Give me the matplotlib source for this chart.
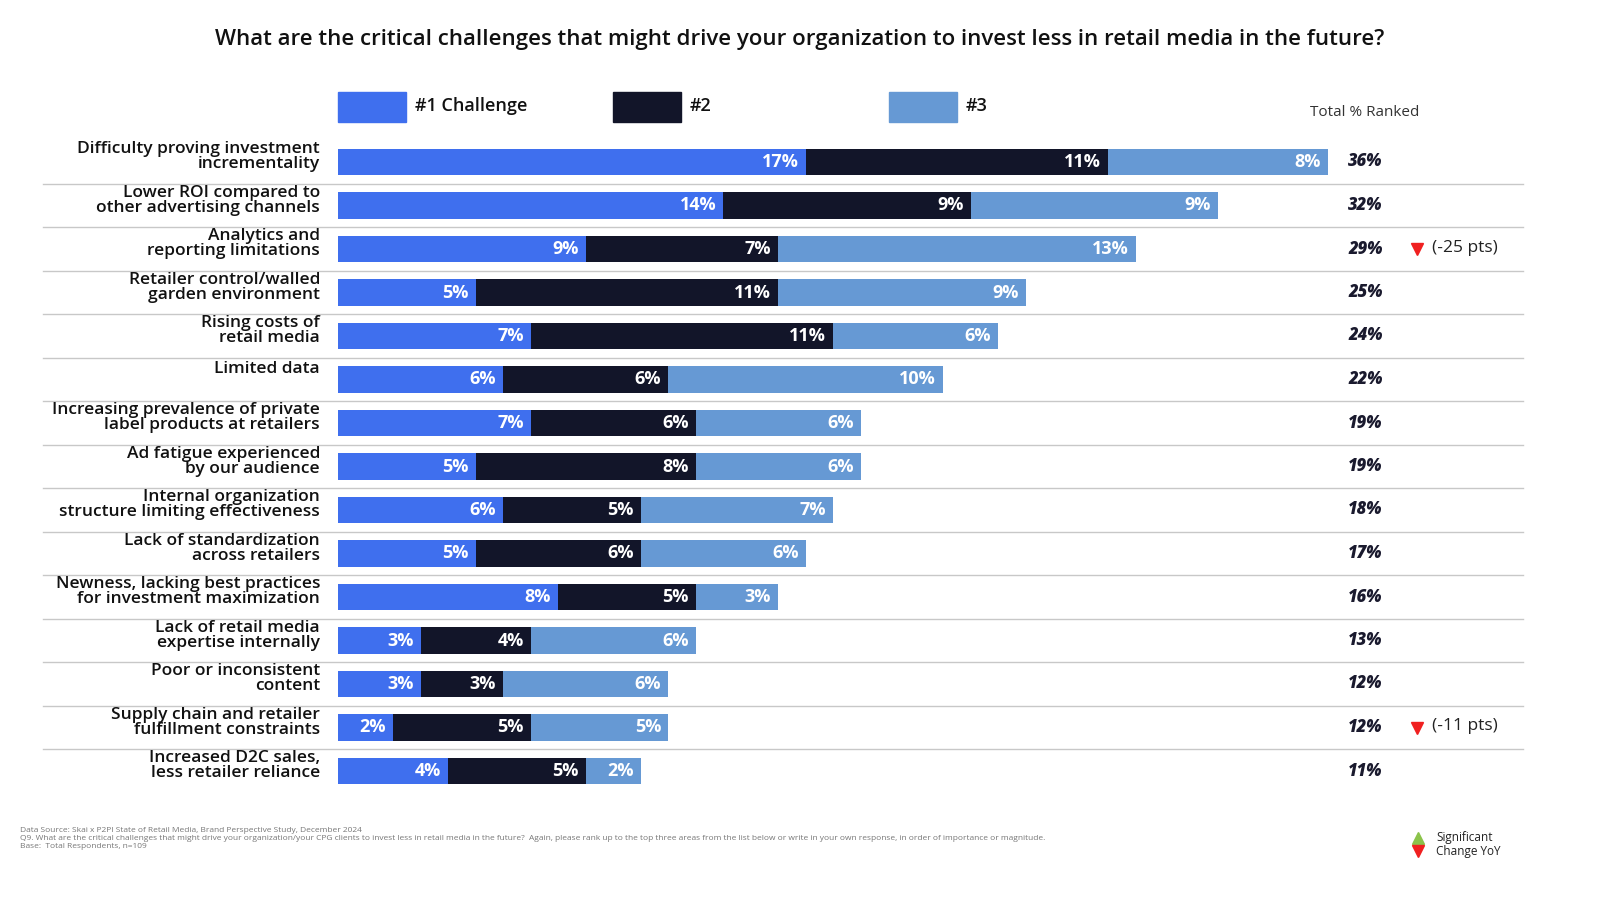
import matplotlib
matplotlib.use("Agg")
import matplotlib.pyplot as plt
from matplotlib.patches import Rectangle

plt.rcParams['font.family'] = ['Open Sans', 'DejaVu Sans']

categories = ["Difficulty proving investment\nincrementality",
              "Lower ROI compared to\nother advertising channels",
              "Analytics and\nreporting limitations",
              "Retailer control/walled\ngarden environment",
              "Rising costs of\nretail media",
              "Limited data",
              "Increasing prevalence of private\nlabel products at retailers",
              "Ad fatigue experienced\nby our audience",
              "Internal organization\nstructure limiting effectiveness",
              "Lack of standardization\nacross retailers",
              "Newness, lacking best practices\nfor investment maximization",
              "Lack of retail media\nexpertise internally",
              "Poor or inconsistent\ncontent",
              "Supply chain and retailer\nfulfillment constraints",
              "Increased D2C sales,\nless retailer reliance"]
rank1 = [17, 14, 9, 5, 7, 6, 7, 5, 6, 5, 8, 3, 3, 2, 4]
rank2 = [11, 9, 7, 11, 11, 6, 6, 8, 5, 6, 5, 4, 3, 5, 5]
rank3 = [8, 9, 13, 9, 6, 10, 6, 6, 7, 6, 3, 6, 6, 5, 2]
totals = [36, 32, 29, 25, 24, 22, 19, 19, 18, 17, 16, 13, 12, 12, 11]
changes = {2: "(-25 pts)", 13: "(-11 pts)"}
series_names = ["#1 Challenge", "#2", "#3"]
colors = ["#3F6FEE", "#121529", "#6699D4"]

W, H = 1600, 900
fig = plt.figure(figsize=(16, 9), dpi=100)
ppu = 27.5
row = 43.5
top_px = 162 - row / 2
n = len(categories)
ax = fig.add_axes([338 / W, 1 - (top_px + n * row) / H, 1190 / W, n * row / H])
ax.set_xlim(0, 1190 / ppu)
ax.set_ylim(n - 0.5, -0.5)
ax.axis('off')

def px2x(p):
    return (p - 338) / ppu

left = [0] * n
for vals, c in zip([rank1, rank2, rank3], colors):
    ax.barh(range(n), vals, left=left, height=0.6, color=c)
    for i, v in enumerate(vals):
        ax.text(left[i] + v - 0.25, i, f"{v}%", ha='right', va='center',
                color='white', fontsize=13, fontweight='bold')
    left = [l + v for l, v in zip(left, vals)]

for i, cat in enumerate(categories):
    y = i - 0.25 if "\n" not in cat else i - 0.12
    ax.text(px2x(320), y, cat, ha='right', va='center', fontsize=12.5, fontweight='semibold',
            color='#111111', linespacing=0.95, clip_on=False)
    ax.text(px2x(1348), i, f"{totals[i]}%", ha='left', va='center', fontsize=12,
            fontweight='heavy', fontstyle='italic', color='#1a1a2e', clip_on=False)
    if i in changes:
        ax.plot([px2x(1417)], [i], marker='v', color='#F02020', markersize=9, clip_on=False)
        ax.text(px2x(1432), i - 0.03, changes[i], ha='left', va='center', fontsize=12.5,
                color='#222222', clip_on=False)
    if i < n - 1:
        ax.plot([px2x(43), px2x(1523)], [i + 0.5, i + 0.5], color='#c8c8c8', lw=1, clip_on=False)

fig.text(0.5, 1 - 40 / H, "What are the critical challenges that might drive your organization to invest less in retail media in the future?",
         ha='center', va='center', fontsize=16, fontweight='semibold', color='#111111')

for x0, name, c in zip([338, 613, 889], series_names, colors):
    fig.add_artist(Rectangle((x0 / W, 1 - 122 / H), 68 / W, 30 / H, color=c, transform=fig.transFigure))
    fig.text((x0 + 77) / W, 1 - 106 / H, name, ha='left', va='center', fontsize=13,
             fontweight='semibold', color='#111111')
fig.text(1310 / W, 1 - 113 / H, "Total % Ranked", ha='left', va='center', fontsize=11, color='#333333')

foot = ("Data Source: Skai x P2PI State of Retail Media, Brand Perspective Study, December 2024\n"
        "Q9. What are the critical challenges that might drive your organization/your CPG clients to invest less in retail media in the future?  Again, please rank up to the top three areas from the list below or write in your own response, in order of importance or magnitude.\n"
        "Base:  Total Respondents, n=109")
fig.text(20 / W, 1 - 839 / H, foot, ha='left', va='center', fontsize=6, color='#777777', linespacing=1.2)

fig.lines.append(plt.Line2D([1418 / W], [1 - 838 / H], marker='^', color='#8BC34A', markersize=9, transform=fig.transFigure))
fig.lines.append(plt.Line2D([1418 / W], [1 - 851 / H], marker='v', color='#F02020', markersize=9, transform=fig.transFigure))
fig.text(1436 / W, 1 - 838 / H, "Significant", ha='left', va='center', fontsize=8.5, color='#222222')
fig.text(1436 / W, 1 - 851 / H, "Change YoY", ha='left', va='center', fontsize=8.5, color='#222222')

fig.savefig("out.png", dpi=100, facecolor='white')
